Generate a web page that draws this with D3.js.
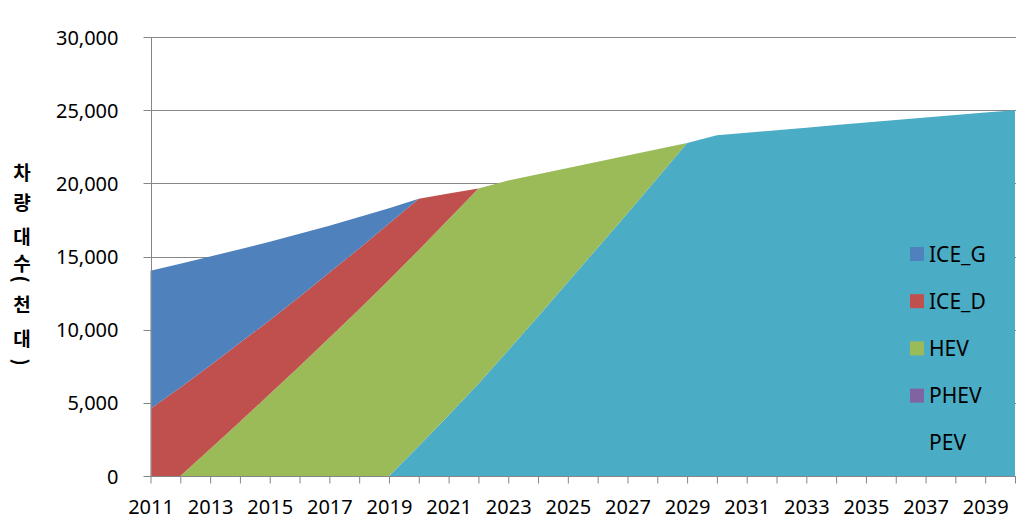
<!DOCTYPE html>
<html>
<head>
<meta charset="utf-8">
<script src="https://cdn.jsdelivr.net/npm/d3@7"></script>
<style>
  body { margin: 0; background: #fff; }
  text { font-family: "Noto Sans", "Noto Sans CJK KR", sans-serif; fill: #000; }
</style>
</head>
<body>
<svg id="viz"></svg>
<script>
// ----------------------- DATA (thousand vehicles)
const years = d3.range(2011, 2041);

const iceG = [9430, 8450, 7450, 6400, 5350, 4300, 3200, 2150, 1050, 0,
  0, 0, 0, 0, 0, 0, 0, 0, 0, 0,
  0, 0, 0, 0, 0, 0, 0, 0, 0, 0];

const iceD = [4600, 6050, 5700, 5400, 5050, 4750, 4450, 4150, 3850, 3500,
  1750, 0, 0, 0, 0, 0, 0, 0, 0, 0,
  0, 0, 0, 0, 0, 0, 0, 0, 0, 0];

const hev = [0, 0, 1850, 3700, 5600, 7500, 9450, 11400, 13400, 13400,
  13400, 13350, 11600, 9720, 7800, 5880, 3950, 1980, 0, 0,
  0, 0, 0, 0, 0, 0, 0, 0, 0, 0];

const phev = [0, 0, 0, 0, 0, 0, 0, 0, 0, 0,
  0, 0, 0, 0, 0, 0, 0, 0, 0, 0,
  0, 0, 0, 0, 0, 0, 0, 0, 0, 0];

const pev = [0, 0, 0, 0, 0, 0, 0, 0, 0, 2050,
  4150, 6300, 8600, 10900, 13250, 15600, 17950, 20350, 22750, 23280,
  23450, 23630, 23800, 23980, 24150, 24320, 24500, 24670, 24840, 25000];

const seriesNames = ['ICE_G', 'ICE_D', 'HEV', 'PHEV', 'PEV'];
const seriesColors = ['#4f81bd', '#c0504d', '#9bbb59', '#8064a2', '#4bacc6'];
const yTicks = [0, 5000, 10000, 15000, 20000, 25000, 30000];
const xLabelYears = years.filter(y => (y - 2011) % 2 === 0 && y < 2040);
const yTitle = ['차', '량', '대', '수', '(', '천', '대', ')'];

// ----------------------- SETTINGS
const W = 1027, H = 529;
const plot = { left: 150.5, right: 1015, top: 37, bottom: 476 };

const svg = d3.select('#viz')
  .attr('width', W)
  .attr('height', H);

const x = d3.scaleLinear()
  .domain([2011, 2040])
  .range([plot.left, plot.right]);

const y = d3.scaleLinear()
  .domain([0, 30000])
  .range([plot.bottom, plot.top]);

// table for the stack
const table = years.map((yr, i) => ({
  year: yr,
  ICE_G: iceG[i],
  ICE_D: iceD[i],
  HEV: hev[i],
  PHEV: phev[i],
  PEV: pev[i]
}));

// PEV at the bottom, ICE_G on top
const stack = d3.stack().keys(['PEV', 'PHEV', 'HEV', 'ICE_D', 'ICE_G']);
const layers = stack(table);
const colorOf = d3.scaleOrdinal().domain(seriesNames).range(seriesColors);

// ----------------------- GRIDLINES
svg.append('g')
  .selectAll('line')
  .data(yTicks)
  .enter().append('line')
  .attr('x1', plot.left - 7)
  .attr('x2', plot.right + 1)
  .attr('y1', d => Math.round(y(d)) + 0.5)
  .attr('y2', d => Math.round(y(d)) + 0.5)
  .attr('stroke', '#868686')
  .attr('stroke-width', 1);

// ----------------------- AREAS
const area = d3.area()
  .x(d => x(d.data.year))
  .y0(d => y(d[0]))
  .y1(d => y(d[1]));

svg.append('g')
  .selectAll('path')
  .data(layers)
  .enter().append('path')
  .attr('d', area)
  .attr('fill', d => colorOf(d.key));

// ----------------------- AXES
const yAxis = d3.axisLeft(y)
  .tickValues(yTicks)
  .tickSize(0)
  .tickPadding(32)
  .tickFormat(d3.format(','));

svg.append('g')
  .attr('transform', `translate(${plot.left}, 0)`)
  .call(yAxis)
  .call(g => g.select('.domain').remove())
  .selectAll('text')
  .style('font-size', '20px')
  .attr('dy', '0.35em');

const xAxis = d3.axisBottom(x)
  .tickValues(years)
  .tickSize(7)
  .tickPadding(16)
  .tickFormat(d => xLabelYears.includes(d) ? d : '');

svg.append('g')
  .attr('transform', `translate(0, ${Math.round(plot.bottom) + 0.5})`)
  .call(xAxis)
  .call(g => g.select('.domain').attr('stroke', '#868686').attr('d', `M${plot.left},0H${plot.right + 1}`))
  .call(g => g.selectAll('.tick line').attr('stroke', '#868686'))
  .selectAll('text')
  .style('font-size', '20px');

// y axis line on top of the areas
svg.append('line')
  .attr('x1', Math.round(plot.left) + 0.5)
  .attr('x2', Math.round(plot.left) + 0.5)
  .attr('y1', plot.top)
  .attr('y2', plot.bottom)
  .attr('stroke', '#868686');

// ----------------------- Y TITLE (stacked characters)
const titleY = [171, 201, 235, 262, 279, 303, 337, 362];
svg.append('g')
  .selectAll('text')
  .data(yTitle)
  .enter().append('text')
  .attr('text-anchor', 'middle')
  .attr('dominant-baseline', 'central')
  .attr('transform', (d, i) => {
    const t = `translate(22, ${titleY[i]})`;
    return (d === '(' || d === ')') ? t + ' rotate(90)' : t;
  })
  .style('font-family', '"Noto Sans CJK KR", sans-serif')
  .style('font-weight', 'bold')
  .style('font-size', '19px')
  .text(d => d);

// ----------------------- LEGEND
const legend = svg.append('g')
  .attr('transform', 'translate(910, 254)');

const item = legend.selectAll('g')
  .data(seriesNames)
  .enter().append('g')
  .attr('transform', (d, i) => `translate(0, ${i * 47.2})`);

item.append('rect')
  .attr('x', 0)
  .attr('y', -7)
  .attr('width', 14)
  .attr('height', 14)
  .attr('fill', d => colorOf(d));

item.append('text')
  .attr('x', 19)
  .attr('dy', '0.36em')
  .style('font-size', '21px')
  .text(d => d);
</script>
</body>
</html>
